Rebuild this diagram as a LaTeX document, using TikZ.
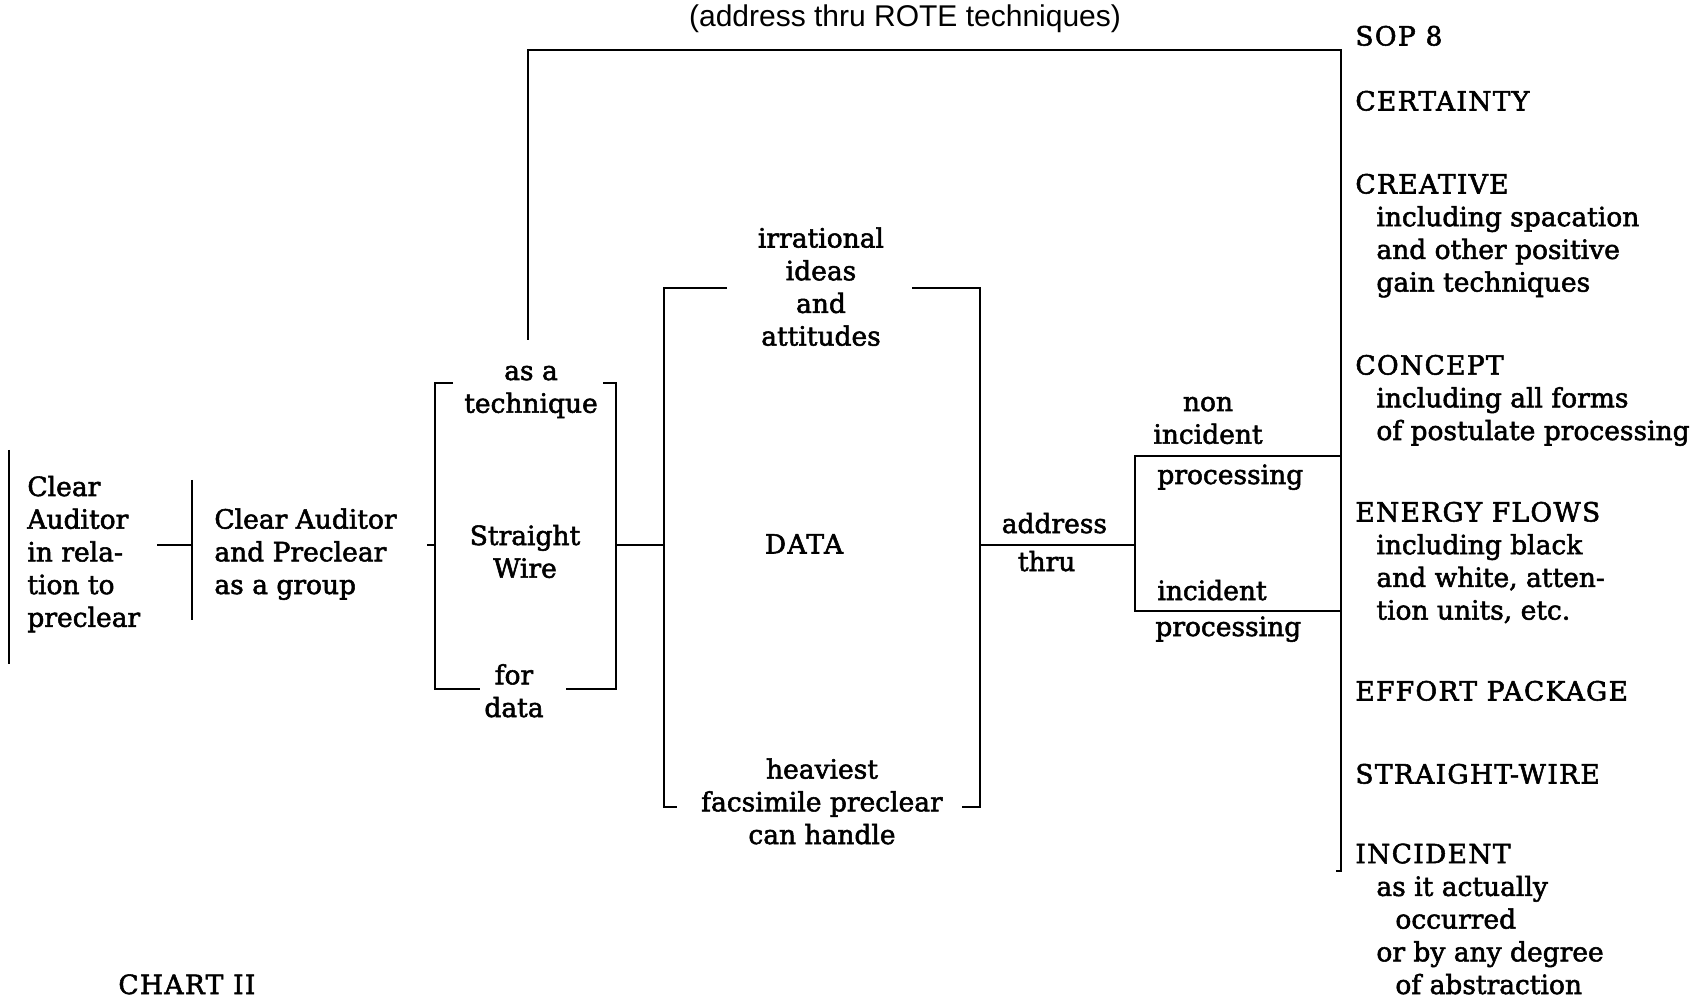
\documentclass[tikz,border=0pt]{standalone}
\usepackage{fontspec}
\setmainfont{DejaVu Serif}[FakeBold=2]
\newfontfamily\rotefont{Liberation Sans}
\usetikzlibrary{positioning}
\newcommand{\subind}{\hspace*{10.5pt}}
\newcommand{\subsubind}{\hspace*{20pt}}
\newcommand{\capsls}{\addfontfeature{LetterSpace=5}}

\begin{document}
\begin{tikzpicture}[x=0.5pt, y=-0.5pt, line width=1.4pt,
    txt/.style={inner sep=0pt, align=left, anchor=base west, font=\fontsize{13.25}{16.35}\selectfont},
    ctxt/.style={txt, align=center, anchor=base},]
  \useasboundingbox (0,0) rectangle (1707,999);
  % multi-line nodes sit on the baseline of their last line

  % left side
  \node[txt] (auditor) at (26,626.8) {Clear\\Auditor\\in rela-\\tion to\\preclear};
  \node[txt] (group) at (213,594) {Clear Auditor\\and Preclear\\as a group};
  \draw (9,450) -- (9,664);
  \draw (192,480) coordinate (grouptop) -- (192,620);
  \coordinate (auditorout) at (157,545);
  \coordinate (groupin) at (192,545);
  \draw (auditorout) -- (groupin);

  % straight wire bracket
  \node[ctxt] (technique) at (531,412.7) {as a\\technique};
  \node[ctxt] (sw) at (525,577.7) {Straight\\Wire};
  \node[ctxt] (fordata) at (514,717) {for\\data};
  \coordinate (swin) at (435,545);
  \coordinate (swout) at (616,545);
  \draw (453,383) -- (435,383) -- (435,689) -- (480,689);
  \draw (603,383) -- (616,383) -- (616,689) -- (566,689);
  \draw (427,545) -- (swin);

  % data bracket
  \node[ctxt] (irrational) at (821,345.6) {irrational\\ideas\\and\\attitudes};
  \node[ctxt] (data) at (804,553.5) {\capsls DATA};
  \node[ctxt] (heaviest) at (822,844) {heaviest\\facsimile preclear\\can handle};
  \coordinate (datain) at (664,545);
  \coordinate (dataout) at (980,545);
  \draw (727,288) -- (664,288) -- (664,807) -- (677,807);
  \draw (912,288) -- (980,288) -- (980,807) -- (962,807);
  \draw (swout) -- (datain);

  % address thru
  \coordinate (procin) at (1135,545);
  \draw (dataout) -- node[ctxt, pos=0.48, yshift=6pt] (address) {address}
        node[ctxt, pos=0.43, yshift=-13pt] (thru) {thru} (procin);
  \draw (1341,456) -- (1135,456) -- (1135,611) -- (1341,611);
  \node[ctxt] (nonincident) at (1208,443.7) {non\\incident};
  \node[txt] (proc1) at (1156,484) {processing};
  \node[txt] (incident) at (1156,600) {incident};
  \node[txt] (proc2) at (1154,636) {processing};

  % rote line and sop 8 column
  \node[font=\rotefont\fontsize{15}{18}\selectfont, inner sep=0pt, anchor=base] (rote) at (905,27) {(address thru ROTE techniques)};
  \coordinate (rotestart) at (528,340);
  \coordinate (sop top) at (1341,50);
  \draw (rotestart) |- (sop top) -- (1341,871) -- (1336,871);

  \node[txt] (sop) at (1354,45.5) {\capsls SOP 8};
  \node[txt] (certainty) at (1354,110.5) {\capsls CERTAINTY};
  \node[txt] (creative) at (1354,291.6) {{\capsls CREATIVE}\\\subind including spacation\\\subind and other positive\\\subind gain techniques};
  \node[txt] (concept) at (1354,440) {{\capsls CONCEPT}\\\subind including all forms\\\subind of postulate processing};
  \node[txt] (energy) at (1354,619.6) {{\capsls ENERGY FLOWS}\\\subind including black\\\subind and white, atten-\\\subind tion units, etc.};
  \node[txt] (effort) at (1354,700.5) {\capsls EFFORT PACKAGE};
  \node[txt] (straightwire) at (1354,783.5) {\capsls STRAIGHT-WIRE};
  \node[txt] (incidentitem) at (1354,994) {{\capsls INCIDENT}\\\subind as it actually\\\subsubind occurred\\\subind or by any degree\\\subsubind of abstraction};

  \node[txt] (chart) at (117,994) {\capsls CHART II};
\end{tikzpicture}
\end{document}
